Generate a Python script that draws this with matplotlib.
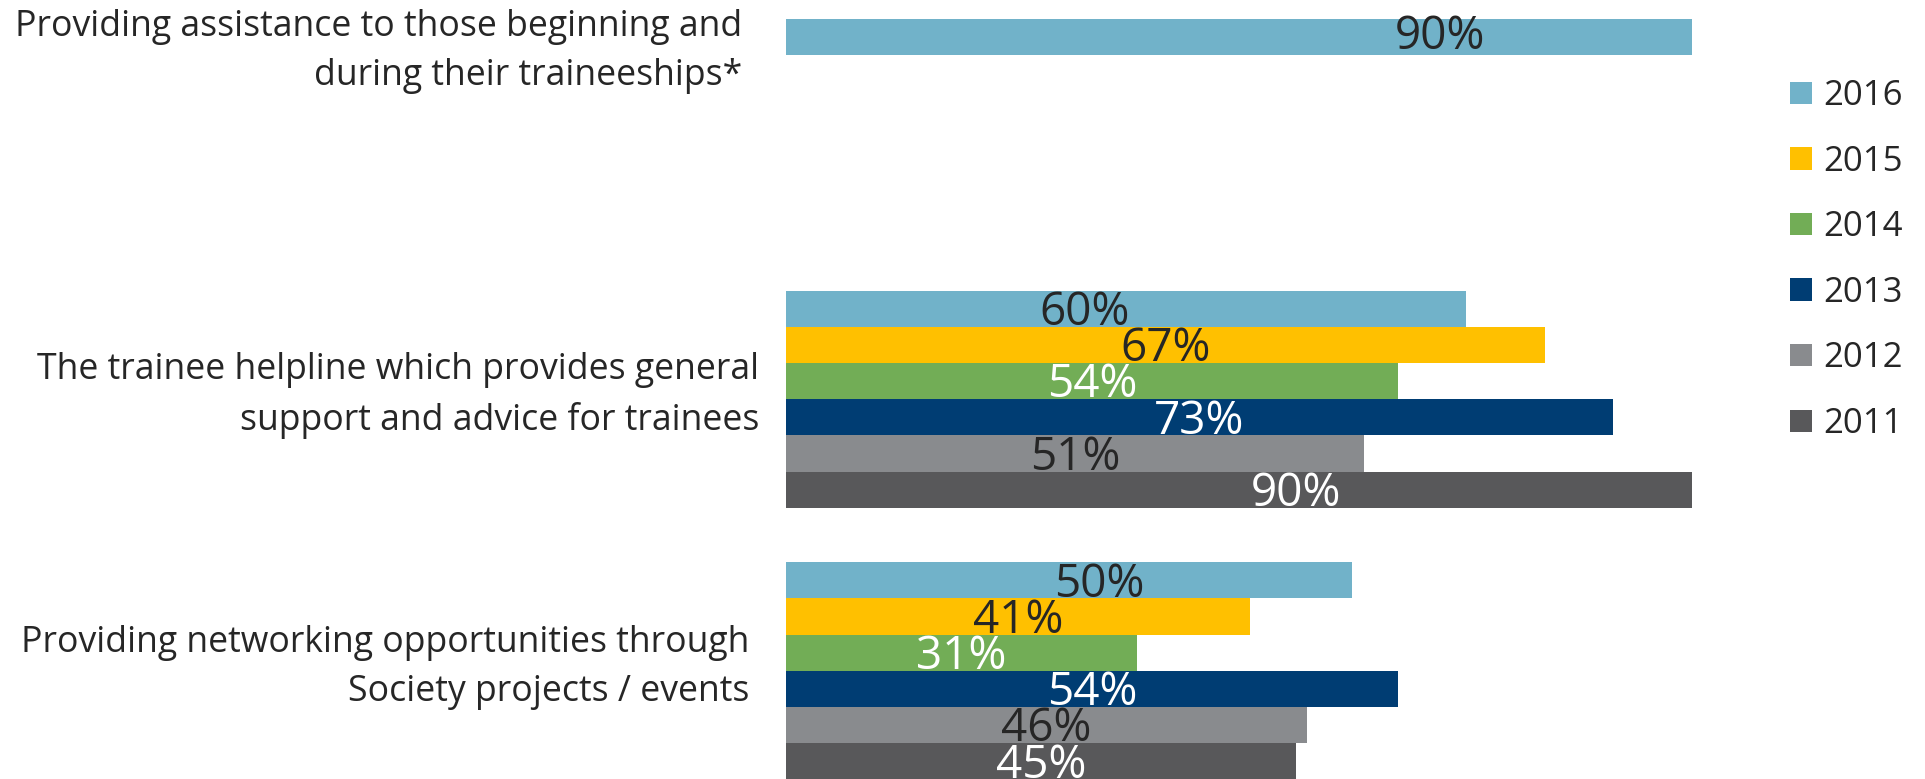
import matplotlib
matplotlib.use('Agg')
import matplotlib.pyplot as plt
from matplotlib.patches import Patch
import numpy as np

plt.rcParams['font.family'] = ['Open Sans', 'DejaVu Sans']

categories = [
    'Providing assistance to those beginning and\nduring their traineeships*',
    'The trainee helpline which provides general\nsupport and advice for trainees',
    'Providing networking opportunities through\nSociety projects / events',
]
years = ['2016', '2015', '2014', '2013', '2012', '2011']

# one row per year, one column per category (nan = no bar)
values = {
    '2016': [90, 60, 50],
    '2015': [np.nan, 67, 41],
    '2014': [np.nan, 54, 31],
    '2013': [np.nan, 73, 54],
    '2012': [np.nan, 51, 46],
    '2011': [np.nan, 90, 45],
}

colors = ['#71b2c9', '#ffc000', '#72ad56', '#003d73', '#898b8e', '#58585a']
label_colors = ['#262626', '#262626', 'white', 'white', '#262626', 'white']
# the 2016 labels sit off-centre in the original
label_x_2016 = [57.7, 26.4, 27.7]
cat_offsets = [44, 27, 37]   # gap between label and bars, px
cat_dy = [0.4, 2.4, 2.4]     # label centre inside each group
group_step = 7.5

fig = plt.figure(figsize=(19.25, 7.79), dpi=100)
ax = fig.add_axes([786 / 1925, 0, 906 / 1925, 1])

for i, yr in enumerate(years):
    vals = np.array(values[yr], dtype=float)
    ypos = np.arange(len(categories)) * group_step + i
    ax.barh(ypos, vals, height=1.0, color=colors[i], label=yr)
    for j, v in enumerate(vals):
        if np.isnan(v):
            continue
        lx = label_x_2016[j] if yr == '2016' else v / 2
        dy = 0.0 if j == 0 else 0.12
        ax.text(lx, ypos[j] + dy, f'{int(v)}%', ha='center', va='center',
                fontsize=33, color=label_colors[i], clip_on=True)

for j, cat in enumerate(categories):
    ax.annotate(cat, xy=(0, j * group_step + cat_dy[j]),
                xytext=(-cat_offsets[j] * 0.72, 0), textcoords='offset points',
                ha='right', va='center', fontsize=25.7, color='#262626',
                linespacing=1.48, annotation_clip=False)

ax.set_xlim(0, 80)
ax.set_ylim(20.49, -1.025)
ax.axis('off')

handles = [Patch(facecolor=c, edgecolor='none') for c in colors]
fig.legend(handles, years, loc='upper left', bbox_to_anchor=(1790 / 1925, 1 - 79 / 779),
           frameon=False, fontsize=25, handlelength=0.62, handleheight=0.62,
           handletextpad=0.35, labelspacing=0.91, borderpad=0, borderaxespad=0,
           labelcolor='#262626')

fig.savefig('out.png', dpi=100)
